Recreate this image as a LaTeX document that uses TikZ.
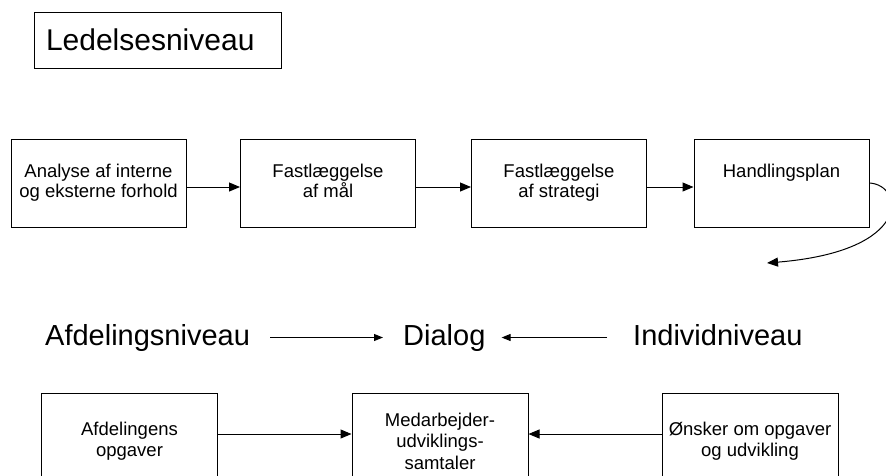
\documentclass[tikz,border=0pt]{standalone}
\usepackage{fontspec}
\setmainfont{Liberation Sans}
\usetikzlibrary{arrows.meta}
\begin{document}
\begin{tikzpicture}[x=1pt,y=-1pt,
  boxtop/.style={draw,line width=1pt,minimum width=175pt,minimum height=88pt,align=center,inner sep=0pt,font=\fontsize{18.5}{20}\selectfont,execute at begin node={\rule{0pt}{18pt}},execute at end node={\vphantom{g}}},
  boxbot/.style={draw,line width=1pt,minimum width=176pt,minimum height=96pt,align=center,inner sep=0pt,font=\fontsize{18.5}{21.5}\selectfont},
  midtext/.style={inner sep=0pt,anchor=base west,text height=21pt,text depth=6pt,font=\fontsize{29}{32}\selectfont},
  arr/.style={line width=1pt,-{Triangle[length=11pt,width=9pt]}},
  arrsmall/.style={line width=1pt,-{Triangle[length=9pt,width=7pt]}}]
\useasboundingbox (0,0) rectangle (886,475);
\clip (0,0) rectangle (886,475);
\fill[white] (0,0) rectangle (886,475);
% header
\node[draw,line width=1pt,text width=223pt,inner xsep=12pt,inner ysep=0pt,minimum height=56pt,align=left,font=\fontsize{30}{33}\selectfont] (L) at (157.5,40) {Ledelsesniveau};
% top row
\node[boxtop] (A1) at (98.5,183) {Analyse af interne\\og eksterne forhold};
\node[boxtop] (A2) at (328,183) {Fastlæggelse\\af mål};
\node[boxtop] (A3) at (559,183) {Fastlæggelse\\af strategi};
\node[boxtop] (A4) at (781.5,183) {Handlingsplan\\\mbox{}};
\draw[arr] (A1.east |- 0,187) -- (A2.west |- 0,187);
\draw[arr] (A2.east |- 0,187) -- (A3.west |- 0,187);
\draw[arr] (A3.east |- 0,187) -- (A4.west |- 0,187);
\coordinate (c1) at (767,263);
\draw[arr] (A4.east) .. controls (904,185) and (914,251) .. (c1);
% middle row
\node[midtext] (Afd) at (45,345) {Afdelingsniveau};
\node[midtext] (Dial) at (403,345) {Dialog};
\node[midtext] (Ind) at (633,345) {Individniveau};
\draw[arrsmall,shorten <=20pt,shorten >=20pt] (Afd.east) -- (Dial.west);
\draw[arrsmall,shorten <=26pt,shorten >=16pt] (Ind.west) -- (Dial.east);
% bottom row
\node[boxbot] (B1) at (129.5,441) {Afdelingens\\opgaver};
\node[boxbot] (B2) at (440,441) {Medarbejder-\\udviklings-\\samtaler};
\node[boxbot] (B3) at (750,441) {Ønsker om opgaver\\og udvikling};
\draw[arr] (B1.east |- 0,434) -- (B2.west |- 0,434);
\draw[arr] (B3.west |- 0,434) -- (B2.east |- 0,434);
\end{tikzpicture}
\end{document}
